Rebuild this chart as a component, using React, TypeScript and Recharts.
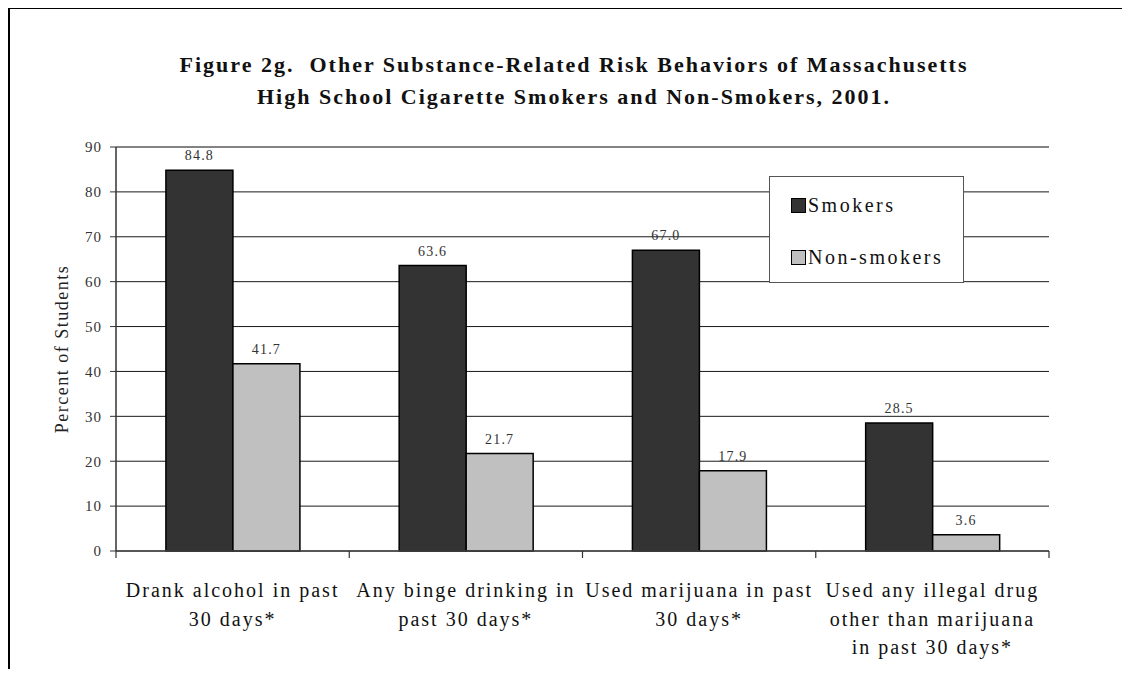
import React from 'react';
import { BarChart, Bar, XAxis, YAxis, CartesianGrid, LabelList, ReferenceLine, Legend } from 'recharts';

// Behaviour categories, one entry per wrapped label line
const categoryLines: string[][] = [
  ['Drank alcohol in past', '30 days*'],
  ['Any binge drinking in', 'past 30 days*'],
  ['Used marijuana in past', '30 days*'],
  ['Used any illegal drug', 'other than marijuana', 'in past 30 days*'],
];
const categories = categoryLines.map((l) => l.join(' '));

// Percent of students reporting each behaviour
const smokers = [84.8, 63.6, 67.0, 28.5];
const nonSmokers = [41.7, 21.7, 17.9, 3.6];

const seriesNames = ['Smokers', 'Non-smokers'];
const seriesColors = ['#333333', '#c0c0c0'];

const yTicks = [0, 10, 20, 30, 40, 50, 60, 70, 80, 90];

const titleLines = [
  'Figure 2g.  Other Substance-Related Risk Behaviors of Massachusetts',
  'High School Cigarette Smokers and Non-Smokers, 2001.',
];

const data = categories.map((category, i) => ({
  category,
  smokers: smokers[i],
  nonSmokers: nonSmokers[i],
}));

const FONT = "'Liberation Serif', 'Times New Roman', serif";

const CategoryTick = (props: any) => {
  const { x, y, payload, index } = props;
  const idx = typeof payload?.index === 'number' ? payload.index : index;
  const lines = categoryLines[idx] || [];
  const half = payload?.offset ?? 0;
  const isLast = idx === categoryLines.length - 1;
  return (
    <g>
      <line x1={x - half} x2={x - half} y1={y} y2={y + 7} stroke="#333" strokeWidth={1.2} />
      {isLast && <line x1={x + half} x2={x + half} y1={y} y2={y + 7} stroke="#333" strokeWidth={1.2} />}
      {lines.map((line, i) => (
        <text
          key={i}
          x={x}
          y={y + 39 + i * 28.5}
          textAnchor="middle"
          dominantBaseline="central"
          fontFamily={FONT}
          fontSize={20}
          letterSpacing={2}
          fill="#111"
        >
          {line}
        </text>
      ))}
    </g>
  );
};

const LegendBox = (props: any) => {
  const payload = (props.payload || []) as any[];
  const items = seriesNames.map((name, i) => {
    const p = payload.find((it) => it.value === name);
    return { name, color: p?.color ?? seriesColors[i] };
  });
  return (
    <div
      style={{
        width: 195,
        height: 107,
        boxSizing: 'border-box',
        border: '1.5px solid #555',
        background: '#fff',
        position: 'relative',
        fontFamily: FONT,
      }}
    >
      {items.map((it, i) => (
        <div
          key={i}
          style={{ position: 'absolute', left: 21, top: 20 + i * 52, display: 'flex', alignItems: 'flex-end' }}
        >
          <div
            style={{
              width: 15,
              height: 15,
              boxSizing: 'border-box',
              background: it.color,
              border: '1.5px solid #000',
            }}
          />
          <span style={{ marginLeft: 2, fontSize: 20, letterSpacing: 2.5, color: '#111', lineHeight: '16px' }}>
            {it.name}
          </span>
        </div>
      ))}
    </div>
  );
};

export default function App() {
  return (
    <div style={{ position: 'relative', width: 1122, height: 661 }}>
      <style>{'html,body{overflow:hidden}'}</style>
      <div
        style={{
          position: 'absolute',
          left: 0,
          top: -1,
          width: 1130,
          height: 680,
          borderTop: '2px solid #000',
          borderLeft: '2px solid #000',
        }}
      />
      <div
        style={{
          position: 'absolute',
          left: 0,
          top: 41,
          width: 1132,
          textAlign: 'center',
          fontFamily: FONT,
          fontWeight: 'bold',
          fontSize: 22,
          letterSpacing: 2,
          lineHeight: '32px',
          color: '#111',
        }}
      >
        {titleLines.map((t, i) => (
          <div key={i} style={{ whiteSpace: 'pre' }}>
            {t}
          </div>
        ))}
      </div>
      <div style={{ position: 'absolute', left: 0, top: 0 }}>
        <BarChart
          width={1122}
          height={669}
          data={data}
          margin={{ top: 139, right: 81, bottom: 6, left: 0 }}
          barCategoryGap="21.4%"
          barGap={0}
        >
          <CartesianGrid vertical={false} stroke="#1a1a1a" strokeWidth={1} />
          <ReferenceLine y={90} stroke="#808080" strokeWidth={1.5} />
          <XAxis
            dataKey="category"
            height={120}
            interval={0}
            tickLine={false}
            tickSize={0}
            tickMargin={0}
            axisLine={{ stroke: '#444', strokeWidth: 1.5 }}
            tick={<CategoryTick />}
          />
          <YAxis
            domain={[0, 90]}
            ticks={yTicks}
            width={108}
            tickSize={6}
            tickMargin={8}
            interval={0}
            axisLine={{ stroke: '#333', strokeWidth: 1.5 }}
            tickLine={{ stroke: '#333' }}
            tick={{ fill: '#333', fontSize: 15, fontFamily: FONT, letterSpacing: 1 }}
            label={{
              value: 'Percent of Students',
              angle: -90,
              position: 'center',
              fill: '#222',
              fontSize: 18,
              fontFamily: FONT,
              letterSpacing: 1.5,
            }}
          />
          <YAxis
            yAxisId="frame"
            orientation="right"
            domain={[0, 90]}
            width={0}
            tick={false}
            tickLine={false}
            axisLine={{ stroke: '#808080', strokeWidth: 1.5 }}
          />
          <Legend
            layout="vertical"
            align="center"
            verticalAlign="middle"
            content={<LegendBox />}
            wrapperStyle={{ position: 'absolute', left: 761, top: 168, width: 195, height: 107 }}
          />
          <Bar dataKey="smokers" name={seriesNames[0]} fill={seriesColors[0]} stroke="#000" strokeWidth={1.5} isAnimationActive={false}>
            <LabelList
              dataKey="smokers"
              position="top"
              offset={10}
              fill="#333"
              fontSize={14}
              fontFamily={FONT}
              letterSpacing={1.2}
              formatter={(v: any) => Number(v).toFixed(1)}
            />
          </Bar>
          <Bar dataKey="nonSmokers" name={seriesNames[1]} fill={seriesColors[1]} stroke="#000" strokeWidth={1.5} isAnimationActive={false}>
            <LabelList
              dataKey="nonSmokers"
              position="top"
              offset={10}
              fill="#333"
              fontSize={14}
              fontFamily={FONT}
              letterSpacing={1.2}
              formatter={(v: any) => Number(v).toFixed(1)}
            />
          </Bar>
        </BarChart>
      </div>
    </div>
  );
}
